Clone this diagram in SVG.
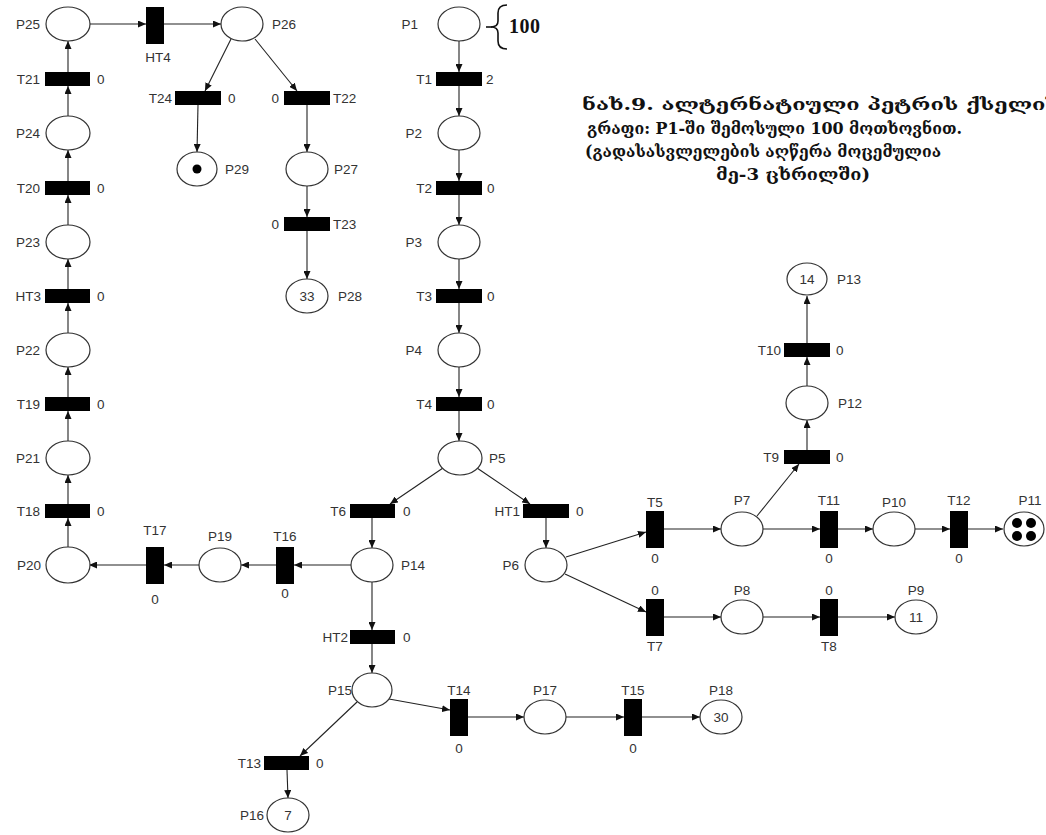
<svg xmlns="http://www.w3.org/2000/svg" width="1046" height="835" viewBox="0 0 1046 835">
<defs>
<marker id="ah" markerWidth="8" markerHeight="7" refX="8" refY="3.5" orient="auto" markerUnits="userSpaceOnUse">
<path d="M0,0 L8,3.5 L0,7 Z" fill="#111"/>
</marker>
<style>
.pl{fill:#fff;stroke:#333;stroke-width:1.2}
.tr{fill:#000}
.lb{font-family:"Liberation Sans",Arial,sans-serif;font-size:13.5px;fill:#333}
.c{text-anchor:middle}
.e{text-anchor:end}
.ed line{stroke:#222;stroke-width:1.1;marker-end:url(#ah)}
.tk{fill:#000}
.geo{font-family:"DejaVu Serif","DejaVu Sans",serif;font-weight:bold;font-size:16px;fill:#111}
</style>
</defs>
<rect width="1046" height="835" fill="#fff"/>

<g id="connectors" class="ed">
<line x1="459" y1="41" x2="459" y2="72"/>
<line x1="459" y1="86" x2="459" y2="116"/>
<line x1="459" y1="150" x2="459" y2="181"/>
<line x1="459" y1="195" x2="459" y2="225"/>
<line x1="459" y1="259" x2="459" y2="289"/>
<line x1="459" y1="303" x2="459" y2="333"/>
<line x1="459" y1="367" x2="459" y2="397"/>
<line x1="459" y1="411" x2="459" y2="441"/>
<line x1="443" y1="468" x2="390" y2="504"/>
<line x1="477" y1="468" x2="530" y2="504"/>
<line x1="372" y1="518" x2="372" y2="548"/>
<line x1="546" y1="518" x2="546" y2="548"/>
<line x1="372" y1="582" x2="372" y2="630"/>
<line x1="372" y1="644" x2="372" y2="673"/>
<line x1="357" y1="702" x2="300" y2="756"/>
<line x1="389" y1="699" x2="450" y2="710"/>
<line x1="287" y1="770" x2="288" y2="798"/>
<line x1="468" y1="717" x2="524" y2="717"/>
<line x1="566" y1="717" x2="624" y2="717"/>
<line x1="642" y1="717" x2="700" y2="717"/>
<line x1="351" y1="565" x2="294" y2="565"/>
<line x1="276" y1="565" x2="241" y2="565"/>
<line x1="199" y1="565" x2="164" y2="565"/>
<line x1="146" y1="565" x2="89" y2="565"/>
<line x1="68" y1="548" x2="68" y2="518"/>
<line x1="68" y1="504" x2="68" y2="475"/>
<line x1="68" y1="441" x2="68" y2="411"/>
<line x1="68" y1="397" x2="68" y2="367"/>
<line x1="68" y1="333" x2="68" y2="303"/>
<line x1="68" y1="289" x2="68" y2="259"/>
<line x1="68" y1="225" x2="68" y2="195"/>
<line x1="68" y1="181" x2="68" y2="150"/>
<line x1="68" y1="116" x2="68" y2="86"/>
<line x1="68" y1="72" x2="68" y2="41"/>
<line x1="90" y1="24" x2="146" y2="24"/>
<line x1="164" y1="24" x2="221" y2="24"/>
<line x1="231" y1="39" x2="205" y2="91"/>
<line x1="255" y1="39" x2="297" y2="91"/>
<line x1="198" y1="105" x2="197" y2="152"/>
<line x1="307" y1="105" x2="307" y2="152"/>
<line x1="307" y1="186" x2="307" y2="217"/>
<line x1="307" y1="231" x2="307" y2="279"/>
<line x1="566" y1="557" x2="646" y2="532"/>
<line x1="565" y1="574" x2="646" y2="612"/>
<line x1="664" y1="529" x2="721" y2="529"/>
<line x1="763" y1="529" x2="820" y2="529"/>
<line x1="838" y1="529" x2="873" y2="529"/>
<line x1="915" y1="529" x2="950" y2="529"/>
<line x1="968" y1="529" x2="1003" y2="529"/>
<line x1="664" y1="617" x2="721" y2="617"/>
<line x1="763" y1="617" x2="820" y2="617"/>
<line x1="838" y1="617" x2="895" y2="617"/>
<line x1="757" y1="516" x2="799" y2="464"/>
<line x1="807" y1="450" x2="807" y2="420"/>
<line x1="807" y1="386" x2="807" y2="357"/>
<line x1="807" y1="343" x2="807" y2="296"/>
</g>

<!-- central column -->
<g id="P1"><ellipse class="pl" cx="459" cy="24" rx="21" ry="17"/><text class="lb e" x="418" y="29">P1</text>
<path d="M507,5 Q498,5 498,13 L498,21 Q498,27 491,27 Q498,27 498,33 L498,41 Q498,49 507,49" fill="none" stroke="#111" stroke-width="1.6"/>
<line x1="486" y1="27" x2="492" y2="27" stroke="#111" stroke-width="1.6"/>
<text x="509" y="33" font-family="Liberation Serif,serif" font-weight="bold" font-size="20" fill="#111" letter-spacing="0.5">100</text></g>
<g id="T1"><rect class="tr" x="436" y="72" width="46" height="14"/><text class="lb e" x="432" y="84">T1</text><text class="lb" x="486" y="84">2</text></g>
<g id="P2"><ellipse class="pl" cx="459" cy="133" rx="21" ry="17"/><text class="lb e" x="422" y="138">P2</text></g>
<g id="T2"><rect class="tr" x="436" y="181" width="46" height="14"/><text class="lb e" x="432" y="193">T2</text><text class="lb" x="487" y="193">0</text></g>
<g id="P3"><ellipse class="pl" cx="459" cy="242" rx="21" ry="17"/><text class="lb e" x="422" y="247">P3</text></g>
<g id="T3"><rect class="tr" x="436" y="289" width="46" height="14"/><text class="lb e" x="432" y="301">T3</text><text class="lb" x="487" y="301">0</text></g>
<g id="P4"><ellipse class="pl" cx="459" cy="350" rx="21" ry="17"/><text class="lb e" x="422" y="355">P4</text></g>
<g id="T4"><rect class="tr" x="436" y="397" width="46" height="14"/><text class="lb e" x="432" y="409">T4</text><text class="lb" x="487" y="409">0</text></g>
<g id="P5"><ellipse class="pl" cx="460" cy="458" rx="22" ry="17"/><text class="lb" x="489" y="463">P5</text></g>
<g id="T6"><rect class="tr" x="350" y="504" width="45" height="14"/><text class="lb e" x="346" y="516">T6</text><text class="lb" x="403" y="516">0</text></g>
<g id="HT1"><rect class="tr" x="523" y="504" width="46" height="14"/><text class="lb e" x="520" y="516">HT1</text><text class="lb" x="576" y="516">0</text></g>
<g id="P14"><ellipse class="pl" cx="372" cy="565" rx="21" ry="17"/><text class="lb" x="401" y="570">P14</text></g>
<g id="P6"><ellipse class="pl" cx="546" cy="565" rx="21" ry="17"/><text class="lb e" x="519" y="570">P6</text></g>
<g id="HT2"><rect class="tr" x="350" y="630" width="45" height="14"/><text class="lb e" x="348" y="642">HT2</text><text class="lb" x="403" y="642">0</text></g>
<g id="P15"><ellipse class="pl" cx="372" cy="690" rx="20" ry="17"/><text class="lb e" x="352" y="695">P15</text></g>
<g id="T13"><rect class="tr" x="264" y="756" width="45" height="14"/><text class="lb e" x="261" y="768">T13</text><text class="lb" x="316" y="768">0</text></g>
<g id="P16"><ellipse class="pl" cx="288" cy="815" rx="21" ry="17"/><text class="lb c" x="288" y="820">7</text><text class="lb e" x="264" y="820">P16</text></g>
<g id="T14"><rect class="tr" x="450" y="699" width="18" height="37"/><text class="lb c" x="459" y="695">T14</text><text class="lb c" x="459" y="753">0</text></g>
<g id="P17"><ellipse class="pl" cx="545" cy="717" rx="21" ry="17"/><text class="lb c" x="545" y="695">P17</text></g>
<g id="T15"><rect class="tr" x="624" y="699" width="18" height="37"/><text class="lb c" x="633" y="695">T15</text><text class="lb c" x="633" y="753">0</text></g>
<g id="P18"><ellipse class="pl" cx="721" cy="717" rx="21" ry="17"/><text class="lb c" x="721" y="722">30</text><text class="lb c" x="721" y="695">P18</text></g>

<!-- left branch -->
<g id="T16"><rect class="tr" x="276" y="547" width="18" height="37"/><text class="lb c" x="285" y="541">T16</text><text class="lb c" x="285" y="598">0</text></g>
<g id="P19"><ellipse class="pl" cx="220" cy="565" rx="21" ry="17"/><text class="lb c" x="220" y="541">P19</text></g>
<g id="T17"><rect class="tr" x="146" y="547" width="18" height="37"/><text class="lb c" x="155" y="535">T17</text><text class="lb c" x="155" y="604">0</text></g>
<g id="P20"><ellipse class="pl" cx="68" cy="565" rx="22" ry="18"/><text class="lb e" x="41" y="570">P20</text></g>
<g id="T18"><rect class="tr" x="45" y="504" width="45" height="14"/><text class="lb e" x="40" y="516">T18</text><text class="lb" x="97" y="516">0</text></g>
<g id="P21"><ellipse class="pl" cx="68" cy="458" rx="22" ry="17"/><text class="lb e" x="40" y="463">P21</text></g>
<g id="T19"><rect class="tr" x="45" y="397" width="45" height="14"/><text class="lb e" x="40" y="409">T19</text><text class="lb" x="97" y="409">0</text></g>
<g id="P22"><ellipse class="pl" cx="68" cy="350" rx="22" ry="17"/><text class="lb e" x="40" y="355">P22</text></g>
<g id="HT3"><rect class="tr" x="45" y="289" width="45" height="14"/><text class="lb e" x="41" y="301">HT3</text><text class="lb" x="97" y="301">0</text></g>
<g id="P23"><ellipse class="pl" cx="68" cy="242" rx="22" ry="17"/><text class="lb e" x="40" y="247">P23</text></g>
<g id="T20"><rect class="tr" x="45" y="181" width="45" height="14"/><text class="lb e" x="40" y="193">T20</text><text class="lb" x="97" y="193">0</text></g>
<g id="P24"><ellipse class="pl" cx="68" cy="133" rx="22" ry="17"/><text class="lb e" x="40" y="138">P24</text></g>
<g id="T21"><rect class="tr" x="45" y="72" width="45" height="14"/><text class="lb e" x="40" y="84">T21</text><text class="lb" x="97" y="84">0</text></g>
<g id="P25"><ellipse class="pl" cx="68" cy="24" rx="22" ry="17"/><text class="lb e" x="40" y="29">P25</text></g>
<g id="HT4"><rect class="tr" x="146" y="7" width="18" height="37"/><text class="lb c" x="158" y="62">HT4</text></g>
<g id="P26"><ellipse class="pl" cx="242" cy="24" rx="21" ry="17"/><text class="lb" x="272" y="29">P26</text></g>
<g id="T24"><rect class="tr" x="175" y="91" width="46" height="14"/><text class="lb e" x="172" y="103">T24</text><text class="lb" x="228" y="103">0</text></g>
<g id="T22"><rect class="tr" x="284" y="91" width="46" height="14"/><text class="lb e" x="279" y="103">0</text><text class="lb" x="333" y="103">T22</text></g>
<g id="P29"><ellipse class="pl" cx="197" cy="169" rx="20" ry="17"/><circle class="tk" cx="197" cy="169" r="4.5"/><text class="lb" x="225" y="174">P29</text></g>
<g id="P27"><ellipse class="pl" cx="307" cy="169" rx="21" ry="17"/><text class="lb" x="334" y="174">P27</text></g>
<g id="T23"><rect class="tr" x="284" y="217" width="46" height="14"/><text class="lb e" x="279" y="229">0</text><text class="lb" x="333" y="229">T23</text></g>
<g id="P28"><ellipse class="pl" cx="307" cy="296" rx="21" ry="17"/><text class="lb c" x="307" y="301">33</text><text class="lb" x="338" y="301">P28</text></g>

<!-- right branch -->
<g id="T5"><rect class="tr" x="646" y="511" width="18" height="37"/><text class="lb c" x="655" y="507">T5</text><text class="lb c" x="655" y="563">0</text></g>
<g id="P7"><ellipse class="pl" cx="742" cy="529" rx="21" ry="17"/><text class="lb c" x="742" y="505">P7</text></g>
<g id="T11"><rect class="tr" x="820" y="511" width="18" height="37"/><text class="lb c" x="829" y="505">T11</text><text class="lb c" x="829" y="563">0</text></g>
<g id="P10"><ellipse class="pl" cx="894" cy="529" rx="21" ry="17"/><text class="lb c" x="894" y="507">P10</text></g>
<g id="T12"><rect class="tr" x="950" y="511" width="18" height="37"/><text class="lb c" x="959" y="505">T12</text><text class="lb c" x="959" y="563">0</text></g>
<g id="P11"><ellipse class="pl" cx="1024" cy="529" rx="20" ry="17"/>
<circle class="tk" cx="1017" cy="523" r="5"/><circle class="tk" cx="1031" cy="523" r="5"/><circle class="tk" cx="1017" cy="536" r="5"/><circle class="tk" cx="1031" cy="536" r="5"/>
<text class="lb c" x="1030" y="505">P11</text></g>
<g id="T7"><rect class="tr" x="646" y="599" width="18" height="37"/><text class="lb c" x="655" y="595">0</text><text class="lb c" x="655" y="651">T7</text></g>
<g id="P8"><ellipse class="pl" cx="742" cy="617" rx="21" ry="17"/><text class="lb c" x="742" y="595">P8</text></g>
<g id="T8"><rect class="tr" x="820" y="599" width="18" height="37"/><text class="lb c" x="829" y="595">0</text><text class="lb c" x="829" y="651">T8</text></g>
<g id="P9"><ellipse class="pl" cx="916" cy="617" rx="21" ry="17"/><text class="lb c" x="916" y="622">11</text><text class="lb c" x="916" y="595">P9</text></g>
<g id="T9"><rect class="tr" x="784" y="450" width="46" height="14"/><text class="lb e" x="779" y="462">T9</text><text class="lb" x="836" y="462">0</text></g>
<g id="P12"><ellipse class="pl" cx="807" cy="403" rx="21" ry="17"/><text class="lb" x="838" y="408">P12</text></g>
<g id="T10"><rect class="tr" x="784" y="343" width="46" height="14"/><text class="lb e" x="781" y="355">T10</text><text class="lb" x="836" y="355">0</text></g>
<g id="P13"><ellipse class="pl" cx="807" cy="279" rx="20" ry="16"/><text class="lb c" x="807" y="284">14</text><text class="lb" x="837" y="284">P13</text></g>

<g id="caption">
<text class="geo" x="582" y="110" textLength="478" lengthAdjust="spacingAndGlyphs">ნახ.9. ალტერნატიული პეტრის ქსელის</text>
<text class="geo" x="587" y="134" textLength="375" lengthAdjust="spacingAndGlyphs">გრაფი: P1-ში შემოსული 100 მოთხოვნით.</text>
<text class="geo" x="585" y="157" textLength="356" lengthAdjust="spacingAndGlyphs">(გადასასვლელების აღწერა მოცემულია</text>
<text class="geo" x="716" y="180" textLength="154" lengthAdjust="spacingAndGlyphs">მე-3 ცხრილში)</text>
</g>
</svg>
